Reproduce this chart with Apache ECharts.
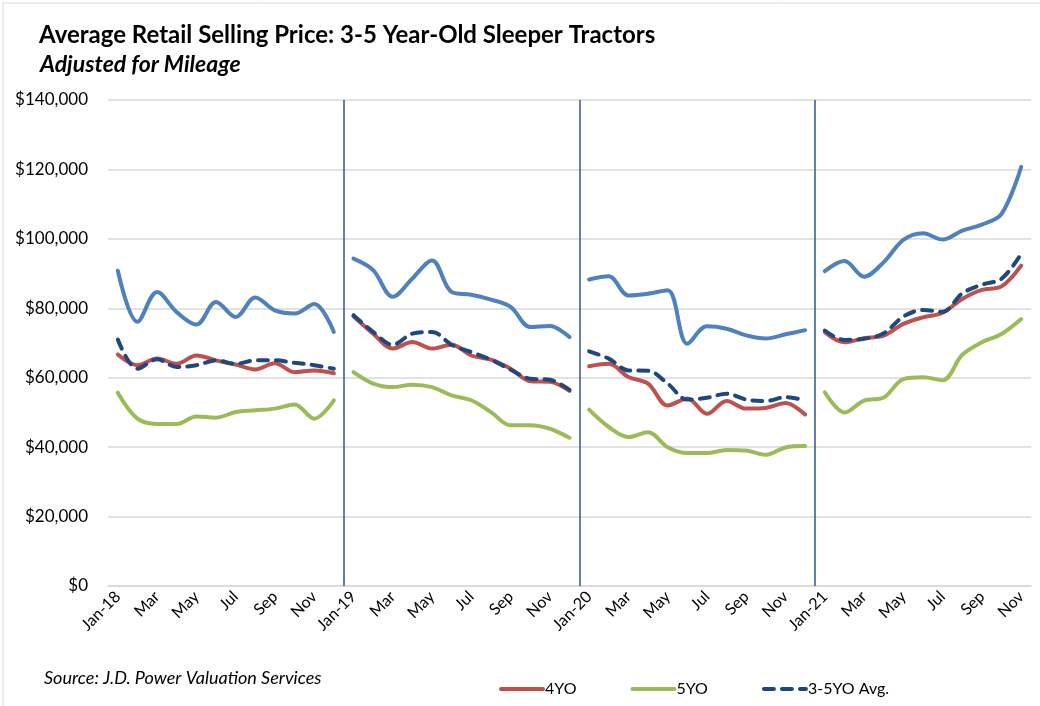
<!DOCTYPE html>
<html>
<head>
<meta charset="utf-8">
<script src="https://cdn.jsdelivr.net/npm/echarts@6/dist/echarts.min.js"></script>
<style>
  html, body { margin: 0; padding: 0; background: #fff; }
  #chart { width: 1040px; height: 706px; }
</style>
</head>
<body>
<div id="chart"></div>
<script>
// months Jan-18 .. Nov-21
var monthNames = ["Jan", "Feb", "Mar", "Apr", "May", "Jun", "Jul", "Aug", "Sep", "Oct", "Nov", "Dec"];
var years = ["18", "19", "20", "21"];
var categories = [];
years.forEach(function (y) {
  monthNames.forEach(function (m) {
    categories.push(m + "-" + y);
  });
});
categories = categories.slice(0, 47);

// 3YO (no legend entry in the original)
var yo3 = [
  90.8, 76.1, 84.7, 78.9, 75.3, 81.8, 77.5, 83.1, 79.4, 78.5, 81.2, 73.2,
  94.3, 91.0, 83.3, 88.6, 93.8, 84.7, 83.9, 82.5, 80.4, 74.6, 74.9, 71.7,
  88.3, 89.2, 83.7, 84.2, 85.2, 69.8, 74.8, 74.1, 72.2, 71.3, 72.5, 73.7,
  90.7, 93.6, 89.1, 93.3, 99.7, 101.6, 99.8, 102.4, 104.1, 107.2, 120.7
];
var yo4 = [
  66.7, 63.6, 65.5, 64.0, 66.4, 65.0, 63.8, 62.4, 64.2, 61.6, 62.1, 61.3,
  77.7, 72.7, 68.4, 70.3, 68.4, 69.5, 66.4, 65.2, 62.6, 59.0, 58.8, 56.2,
  63.3, 64.0, 60.2, 58.3, 52.0, 54.0, 49.6, 53.3, 51.1, 51.3, 52.7, 49.4,
  73.1, 70.2, 71.4, 72.1, 75.5, 77.4, 78.7, 82.7, 85.3, 86.3, 92.3
];
var yo5 = [
  55.7, 48.2, 46.7, 46.7, 48.8, 48.5, 50.1, 50.6, 51.1, 52.3, 48.2, 53.5,
  61.6, 58.3, 57.3, 58.0, 57.3, 54.9, 53.5, 50.1, 46.3, 46.3, 45.3, 42.7,
  50.8, 45.8, 42.9, 44.3, 40.0, 38.3, 38.3, 39.2, 39.0, 37.8, 39.9, 40.3,
  55.8, 50.0, 53.4, 54.3, 59.6, 60.1, 59.3, 66.6, 70.2, 72.6, 76.9
];
var avg35 = [
  71.0, 62.6, 65.3, 63.1, 63.6, 65.0, 64.0, 65.0, 65.0, 64.3, 63.6, 62.6,
  78.0, 73.2, 69.5, 72.7, 73.2, 69.5, 67.4, 65.2, 62.3, 59.7, 59.4, 56.5,
  67.6, 65.5, 62.1, 62.0, 58.3, 53.7, 54.2, 55.4, 53.7, 53.3, 54.4, 53.5,
  73.6, 70.9, 71.2, 72.8, 77.6, 79.5, 79.0, 84.3, 86.8, 88.5, 95.7
];
var yTicks = [0, 20000, 40000, 60000, 80000, 100000, 120000, 140000];
// year separators sit on the boundary before each January
var yearBreaks = [12, 24, 36];

var myChart = echarts.init(document.getElementById("chart"));
var font = "Lato, 'Open Sans', sans-serif";

// one piece of line per year, so the line breaks between Dec and Jan
function yearSlice(values, yr) {
  return values.map(function (v, i) {
    return Math.floor(i / 12) === yr ? v * 1000 : null;
  });
}

var lines = [
  { name: "3YO", data: yo3, color: "#4F81BD", dash: "solid" },
  { name: "4YO", data: yo4, color: "#C0504D", dash: "solid" },
  { name: "5YO", data: yo5, color: "#9BBB59", dash: "solid" },
  { name: "3-5YO Avg.", data: avg35, color: "#1F497D", dash: [10, 8] }
];

var series = [];
lines.forEach(function (l) {
  for (var yr = 0; yr < 4; yr++) {
    series.push({
      name: l.name,
      type: "line",
      smooth: 0.35,
      symbol: "none",
      connectNulls: false,
      data: yearSlice(l.data, yr),
      itemStyle: { color: l.color },
      lineStyle: { color: l.color, width: 4, type: l.dash, cap: "round" },
      z: l.name === "3-5YO Avg." ? 5 : 3
    });
  }
});

// separators drawn on a hidden value axis that spans the category bands
series.push({
  name: "sep",
  type: "line",
  xAxisIndex: 1,
  data: [],
  symbol: "none",
  silent: true,
  markLine: {
    silent: true,
    symbol: "none",
    label: { show: false },
    lineStyle: { color: "#2F5597", width: 1.5, type: "solid" },
    data: yearBreaks.map(function (b) {
      return { xAxis: b };
    })
  }
});

option = {
  backgroundColor: "#fff",
  animation: false,
  title: [
    {
      text: "Average Retail Selling Price: 3-5 Year-Old Sleeper Tractors",
      left: 34,
      top: 18,
      textStyle: { fontFamily: font, fontSize: 24, fontWeight: "bold", color: "#000" }
    },
    {
      text: "Adjusted for Mileage",
      left: 35,
      top: 48,
      textStyle: { fontFamily: font, fontSize: 23, fontWeight: "bold", fontStyle: "italic", color: "#000" }
    }
  ],
  legend: {
    data: ["4YO", "5YO", "3-5YO Avg."],
    left: 494,
    top: 676,
    itemWidth: 42,
    itemHeight: 4,
    itemGap: 54,
    itemStyle: { opacity: 0 },
    lineStyle: { width: 4 },
    textStyle: { fontFamily: font, fontSize: 16, color: "#000", padding: [0, 0, 0, -3] }
  },
  graphic: [
    {
      type: "rect",
      shape: { x: 3, y: 3, width: 1100, height: 800 },
      style: { fill: "none", stroke: "#d9d9d9", lineWidth: 1 }
    },
    {
      type: "text",
      left: 44,
      top: 669,
      style: {
        text: "Source: J.D. Power Valuation Services",
        font: "italic 18px " + font,
        fill: "#000"
      }
    }
  ],
  grid: { left: 108, right: 9, top: 100, bottom: 120 },
  xAxis: [
    {
      type: "category",
      data: categories,
      boundaryGap: true,
      axisLine: { lineStyle: { color: "#d9d9d9", width: 1.5 } },
      axisTick: { show: false },
      axisLabel: {
        interval: 1,
        rotate: 45,
        margin: 8,
        fontFamily: font,
        fontSize: 16,
        color: "#000",
        formatter: function (v) {
          return v.indexOf("Jan") === 0 ? v : v.slice(0, 3);
        }
      },
      splitLine: { show: false }
    },
    {
      type: "value",
      min: 0,
      max: categories.length,
      show: false
    }
  ],
  yAxis: {
    type: "value",
    min: yTicks[0],
    max: yTicks[yTicks.length - 1],
    interval: 20000,
    axisLine: { show: false },
    axisTick: { show: false },
    axisLabel: {
      fontFamily: font,
      fontSize: 17,
      color: "#000",
      margin: 20,
      formatter: function (v) {
        return "$" + v.toLocaleString("en-US");
      }
    },
    splitLine: { lineStyle: { color: "#d9d9d9", width: 1.5 } }
  },
  series: series
};

myChart.setOption(option);
window.addEventListener("resize", function () {
  myChart.resize();
});
</script>
</body>
</html>
